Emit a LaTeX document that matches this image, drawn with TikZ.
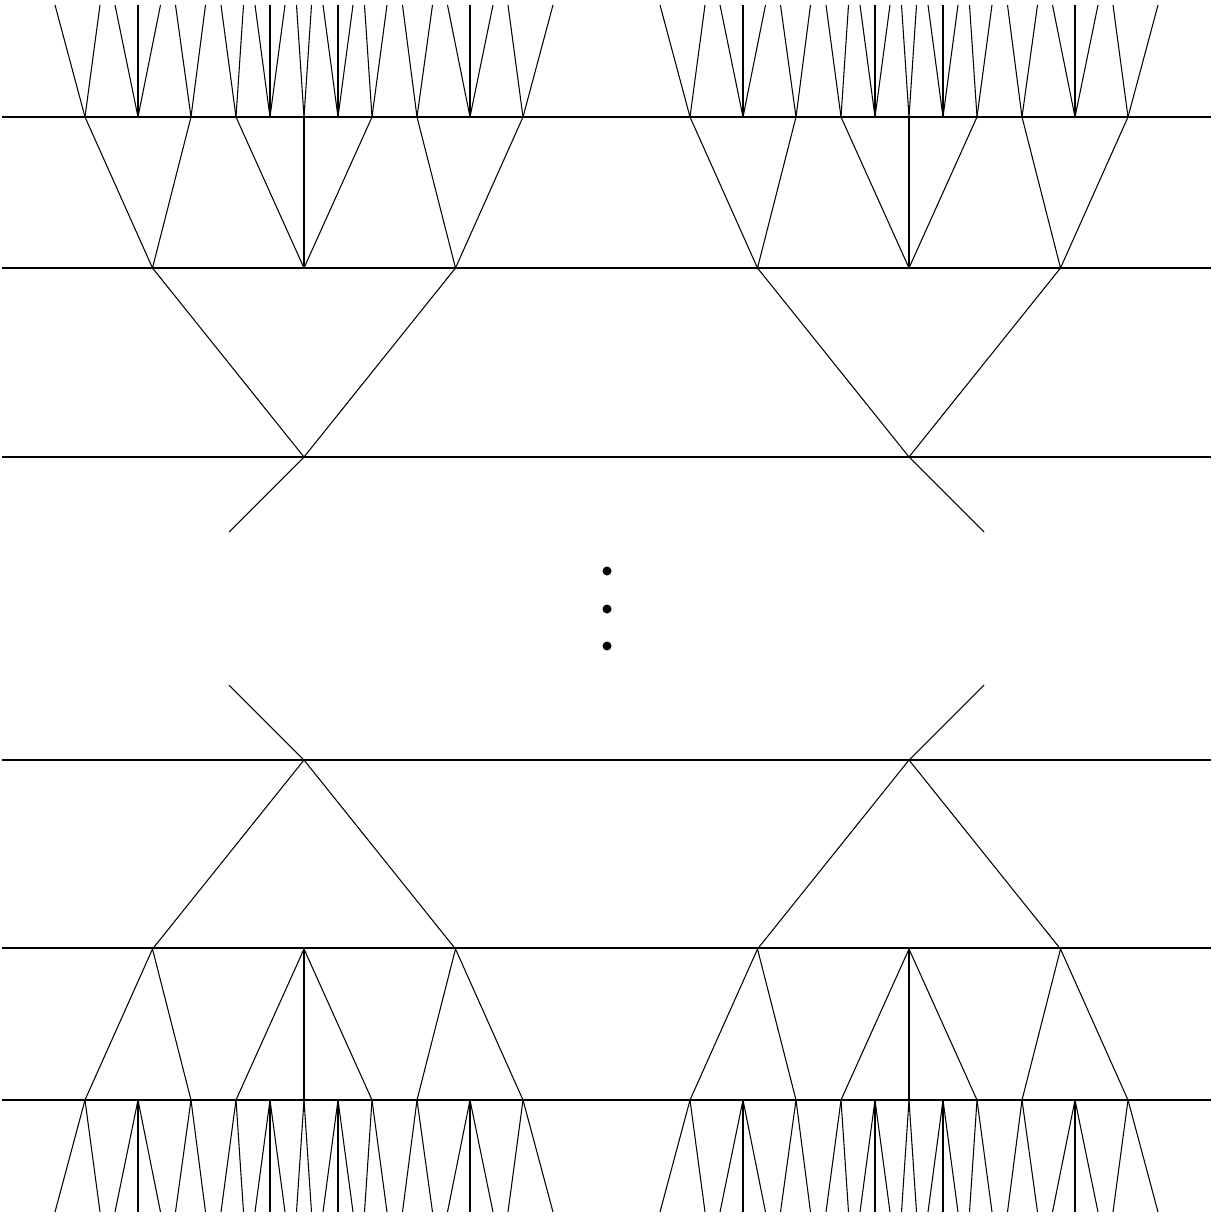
\documentclass[tikz,border=0pt]{standalone}
\begin{document}
\begin{tikzpicture}[x=0.02cm,y=-0.02cm,line width=0.6pt]
  \useasboundingbox (0,0) rectangle (1215,1220);
  % the horizontal lines
  \foreach \h in {117,268,457,760,948,1100}
    \draw (2,\h) -- (1211,\h);
  % the four roots
  \coordinate (TL) at (304,457);
  \coordinate (TR) at (909,457);
  \coordinate (BL) at (304,760);
  \coordinate (BR) at (909,760);
  \draw (TL) -- (TR);
  \draw (BL) -- (BR);
  % one tree at each root
  \foreach \cx/\cy/\s/\d in {304/457/-1/1, 909/457/-1/-1, 304/760/1/1, 909/760/1/-1}{
    \begin{scope}[shift={(\cx,\cy)},yscale=\s,xscale=\d]
      \coordinate (r) at (0,0);
      \coordinate (e) at (-75,-75);
      \draw (r) -- (e);
      \coordinate (a1) at (-151.5,189);
      \coordinate (a2) at (0,189);
      \coordinate (a3) at (151.5,189);
      \draw (a1) -- (r) -- (a3);
      \foreach \i/\x in {1/-219,2/-166,3/-113,4/-68,5/-34,6/0,7/34,8/68,9/113,10/166,11/219}
        \coordinate (b\i) at (\x,340);
      \draw (b1) -- (a1) -- (b3);
      \draw (b4) -- (a2) -- (b8);
      \draw (a2) -- (b6);
      \draw (b9) -- (a3) -- (b11);
      \foreach \p/\x in {1/-249,1/-204,2/-189,2/-166,2/-143.5,3/-128.5,3/-98.5,
          4/-83,4/-60.5,5/-49,5/-34,5/-19,6/-7.5,6/7.5,7/19,7/34,7/49,8/60.5,8/83,
          9/98.5,9/128.5,10/143.5,10/166,10/189,11/204,11/249}{
        \coordinate (c) at (\x,452);
        \draw (b\p) -- (c);
      }
    \end{scope}
  }
  % dots in the middle
  \coordinate (d1) at (607,571);
  \coordinate (d2) at (607,609);
  \coordinate (d3) at (607,646);
  \fill (d1) circle (4.5) (d2) circle (4.5) (d3) circle (4.5);
\end{tikzpicture}
\end{document}
